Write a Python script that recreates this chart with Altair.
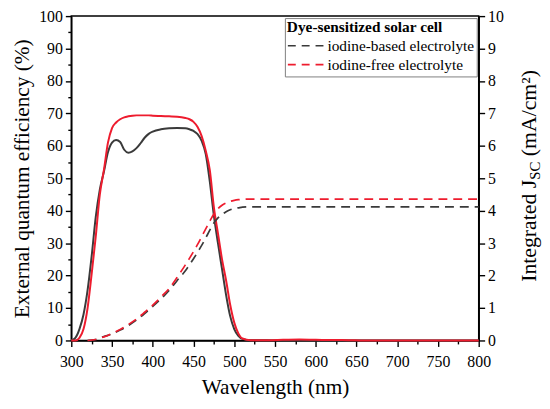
import altair as alt
import pandas as pd

# ---------------- data ----------------
wavelength_eqe = [300, 305, 310, 315, 320, 325, 330, 335, 340, 345, 350, 355, 360, 365, 370,
                  375, 380, 385, 390, 395, 400, 410, 420, 430, 440, 445, 450, 455, 460, 465,
                  470, 475, 480, 485, 490, 495, 500, 505, 510, 520, 540, 560, 580, 600, 620,
                  640, 660, 700, 750, 800]
eqe_iodine_based = [0.0, 0.8, 3.5, 8.0, 15.5, 26.0, 38.0, 46.5, 52.0, 58.0, 61.0, 61.8, 61.2, 58.8, 57.9,
                    58.3, 59.3, 60.8, 62.5, 63.7, 64.4, 65.1, 65.4, 65.5, 65.4, 65.1, 64.6, 63.6, 61.5, 57.5,
                    49.0, 38.5, 30.0, 22.0, 14.0, 7.5, 3.5, 1.4, 0.5, 0.1, 0.05, 0.0, 0.0, 0.0, 0.0,
                    0.0, 0.0, 0.0, 0.0, 0.0]
eqe_iodine_free = [0.0, 0.0, 0.8, 3.5, 10.0, 20.5, 32.0, 45.0, 52.5, 61.0, 65.5, 67.2, 68.2, 68.8, 69.1,
                   69.3, 69.4, 69.4, 69.4, 69.4, 69.3, 69.2, 69.1, 69.0, 68.6, 68.2, 67.4, 65.8, 63.0, 58.5,
                   52.5, 41.0, 33.0, 25.0, 18.5, 11.0, 5.5, 2.2, 0.6, 0.1, 0.1, 0.2, 0.3, 0.2, 0.15,
                   0.1, 0.0, 0.0, 0.0, 0.0]

wavelength_jsc = [320, 330, 340, 350, 360, 370, 380, 390, 400, 410, 420, 430, 440, 445, 450,
                  455, 460, 465, 470, 475, 480, 485, 490, 495, 500, 505, 510, 520, 600, 700, 800]
jsc_iodine_based = [0.0, 0.03, 0.12, 0.20, 0.32, 0.46, 0.63, 0.83, 1.05, 1.28, 1.54, 1.85, 2.15, 2.33, 2.52,
                    2.72, 2.93, 3.16, 3.40, 3.62, 3.78, 3.88, 3.97, 4.03, 4.07, 4.09, 4.11, 4.12, 4.12, 4.12, 4.12]
jsc_iodine_free = [0.0, 0.03, 0.11, 0.22, 0.34, 0.49, 0.66, 0.87, 1.09, 1.34, 1.60, 1.95, 2.33, 2.53, 2.74,
                   2.96, 3.20, 3.44, 3.68, 3.90, 4.06, 4.17, 4.24, 4.29, 4.32, 4.34, 4.35, 4.36, 4.36, 4.36, 4.36]

series_names = ["iodine-based electrolyte", "iodine-free electrolyte"]
series_colors = ["#3a3a3a", "#ee1c2e"]

legend_title = "Dye-sensitized solar cell"
x_title = "Wavelength (nm)"
y_left_title = "External quantum efficiency (%)"
y_right_title_main = "Integrated J"
y_right_title_sub = "SC"
y_right_title_tail = "(mA/cm\u00b2)"

# ---------------- tables ----------------
eqe_df = pd.concat([
    pd.DataFrame({"wl": wavelength_eqe, "v": eqe_iodine_based, "series": series_names[0]}),
    pd.DataFrame({"wl": wavelength_eqe, "v": eqe_iodine_free, "series": series_names[1]}),
])
jsc_df = pd.concat([
    pd.DataFrame({"wl": wavelength_jsc, "v": jsc_iodine_based, "series": series_names[0]}),
    pd.DataFrame({"wl": wavelength_jsc, "v": jsc_iodine_free, "series": series_names[1]}),
])

FONT = "Liberation Serif"
common_axis = dict(
    labelFont=FONT, labelFontSize=16, labelColor="black",
    titleFont=FONT, titleFontSize=21.5, titleFontWeight="normal", titleColor="black",
    domainColor="black", domainWidth=1.5, tickColor="black", tickWidth=1.4,
    grid=False, format="d", labelFlush=False, labelOverlap=False,
)

x_enc = alt.X(
    "wl:Q",
    scale=alt.Scale(domain=[300, 800], nice=False, zero=False),
    axis=alt.Axis(
        values=list(range(300, 801, 25)),
        labelExpr="datum.value % 50 === 0 ? datum.label : ''",
        tickSize={"condition": {"test": "datum.value % 50 === 0", "value": 6}, "value": 3.5},
        labelPadding=7, title=x_title, titlePadding=8,
        **common_axis,
    ),
)

color_eqe = alt.Color(
    "series:N",
    scale=alt.Scale(domain=series_names, range=series_colors),
    legend=None,
)
color_jsc = alt.Color(
    "series:N",
    scale=alt.Scale(domain=series_names, range=series_colors),
    legend=alt.Legend(
        title=legend_title, orient="top-right", offset=2,
        symbolType="stroke", symbolDash=[8, 6], symbolStrokeWidth=1.7, symbolSize=1369,
        clipHeight=19, rowPadding=0, labelOffset=2,
        labelFont=FONT, labelFontSize=15.5, labelColor="black", labelLimit=400,
        titleFont=FONT, titleFontSize=15.5, titleFontWeight="bold", titleColor="black",
        titlePadding=1, titleLimit=400,
        padding=2, strokeColor="#808080", fillColor="white",
    ),
)

eqe_layer = alt.Chart(eqe_df).mark_line(strokeWidth=2, interpolate="monotone").encode(
    x=x_enc,
    y=alt.Y(
        "v:Q",
        scale=alt.Scale(domain=[0, 100], nice=False),
        axis=alt.Axis(
            orient="left",
            values=list(range(0, 101, 5)),
            labelExpr="datum.value % 10 === 0 ? datum.label : ''",
            tickSize={"condition": {"test": "datum.value % 10 === 0", "value": 6}, "value": 3.5},
            labelPadding=3, title=y_left_title, titlePadding=5,
            **common_axis,
        ),
    ),
    color=color_eqe,
    detail="series:N",
)

jsc_layer = alt.Chart(jsc_df).mark_line(strokeWidth=1.7, strokeDash=[9, 6], interpolate="monotone").encode(
    x=x_enc,
    y=alt.Y(
        "v:Q",
        scale=alt.Scale(domain=[0, 10], nice=False),
        axis=alt.Axis(
            orient="right",
            values=[i * 0.5 for i in range(21)],
            labelExpr="datum.value % 1 === 0 ? datum.label : ''",
            tickSize={"condition": {"test": "datum.value % 1 === 0", "value": 6}, "value": 3.5},
            labelPadding=3, title=None,
            **common_axis,
        ),
    ),
    color=color_jsc,
)

one = alt.Data(values=[{}])
title_main = alt.Chart(one).mark_text(
    text=y_right_title_main, font=FONT, fontSize=22, angle=270, align="left",
    baseline="alphabetic", color="black",
).encode(x=alt.value(470), y=alt.value(268.7))
title_sub = alt.Chart(one).mark_text(
    text=y_right_title_sub, font=FONT, fontSize=15, angle=270, align="left",
    baseline="alphabetic", color="black",
).encode(x=alt.value(474), y=alt.value(165.5))
title_tail = alt.Chart(one).mark_text(
    text=y_right_title_tail, font=FONT, fontSize=22, angle=270, align="left",
    baseline="alphabetic", color="black",
).encode(x=alt.value(470), y=alt.value(141.7))

chart = alt.layer(eqe_layer, jsc_layer, title_main, title_sub, title_tail).resolve_scale(
    y="independent", color="independent"
).properties(
    width=412, height=328,
    autosize=alt.AutoSizeParams(type="none"),
    padding={"left": 64, "top": 6, "right": 64, "bottom": 58},
    background="white",
).configure(font=FONT).configure_view(stroke="black", strokeWidth=1.5)

chart.save("out.html", embed_options={"renderer": "svg", "actions": False})
